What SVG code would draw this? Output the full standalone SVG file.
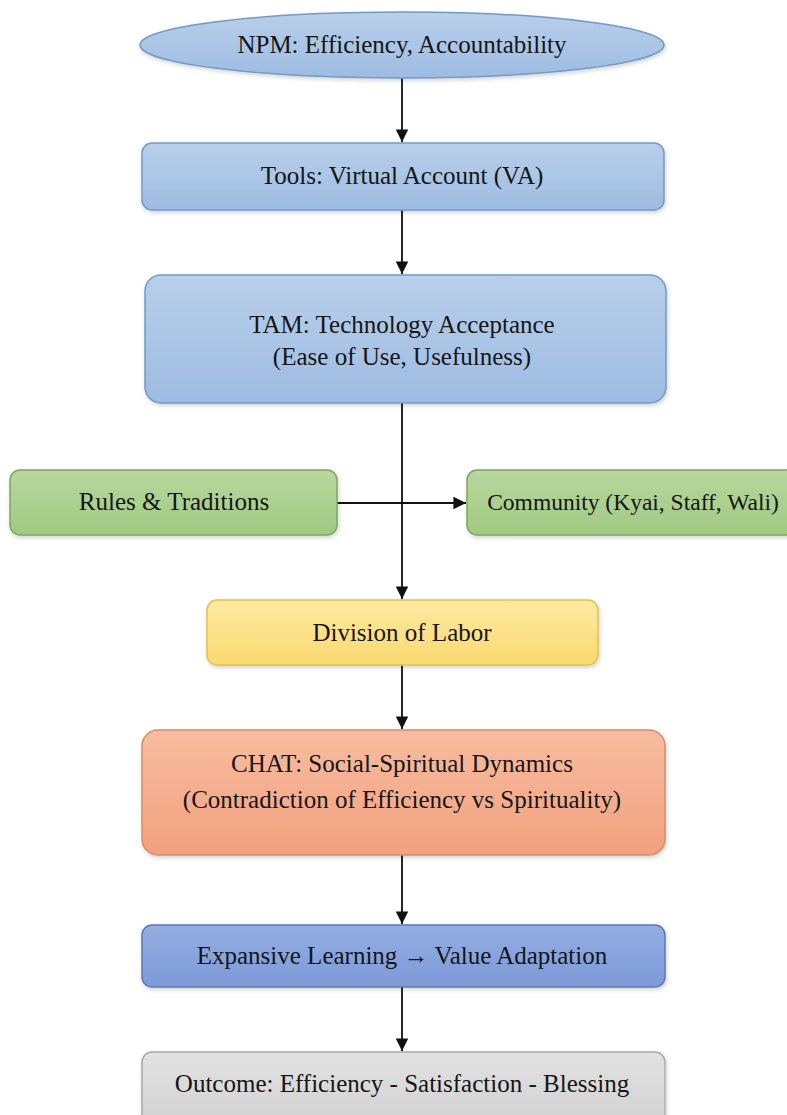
<svg xmlns="http://www.w3.org/2000/svg" width="787" height="1115" viewBox="0 0 787 1115">
<style>
text{font-family:"Liberation Serif","Times New Roman",serif;font-size:25px;fill:#151515;text-anchor:middle}
.c{stroke:#111;stroke-width:1.8;fill:none}
.blue{fill:url(#gBlue);stroke:#7399c6;stroke-width:1.5}
.green{fill:url(#gGreen);stroke:#7aa85c;stroke-width:1.5}
.yellow{fill:url(#gYellow);stroke:#e6c04c;stroke-width:1.5}
.orange{fill:url(#gOrange);stroke:#d98a6a;stroke-width:1.5}
.dblue{fill:url(#gDBlue);stroke:#5b78b8;stroke-width:1.5}
.gray{fill:url(#gGray);stroke:#aaaaaa;stroke-width:1.5}
.sh{filter:url(#shadow)}
</style>
<defs>
<linearGradient id="gBlue" x1="0" y1="0" x2="0" y2="1"><stop offset="0" stop-color="#b9cfea"/><stop offset="1" stop-color="#9dbce2"/></linearGradient>
<linearGradient id="gGreen" x1="0" y1="0" x2="0" y2="1"><stop offset="0" stop-color="#b8d89e"/><stop offset="1" stop-color="#a0c982"/></linearGradient>
<linearGradient id="gYellow" x1="0" y1="0" x2="0" y2="1"><stop offset="0" stop-color="#feeaa3"/><stop offset="1" stop-color="#fbd970"/></linearGradient>
<linearGradient id="gOrange" x1="0" y1="0" x2="0" y2="1"><stop offset="0" stop-color="#f8bca0"/><stop offset="1" stop-color="#f2a17e"/></linearGradient>
<linearGradient id="gDBlue" x1="0" y1="0" x2="0" y2="1"><stop offset="0" stop-color="#93aee2"/><stop offset="1" stop-color="#7d9ad8"/></linearGradient>
<linearGradient id="gGray" x1="0" y1="0" x2="0" y2="1"><stop offset="0" stop-color="#e2e2e2"/><stop offset="1" stop-color="#d0d0d0"/></linearGradient>
<filter id="shadow" x="-5%" y="-10%" width="110%" height="130%"><feDropShadow dx="1" dy="2" stdDeviation="2" flood-color="#000" flood-opacity="0.18"/></filter>
<marker id="arr" viewBox="0 0 10 10" refX="10" refY="5" markerWidth="7" markerHeight="7" markerUnits="strokeWidth" orient="auto"><path d="M0,0 L10,5 L0,10 z" fill="#111"/></marker>
</defs>
<rect width="787" height="1115" fill="#ffffff"/>
<g id="connectors">
<line class="c" x1="402" y1="78" x2="402" y2="142" marker-end="url(#arr)"/>
<line class="c" x1="402" y1="210" x2="402" y2="274" marker-end="url(#arr)"/>
<line class="c" x1="402" y1="403" x2="402" y2="599" marker-end="url(#arr)"/>
<line class="c" x1="337" y1="503" x2="466" y2="503" marker-end="url(#arr)"/>
<line class="c" x1="402" y1="665" x2="402" y2="729" marker-end="url(#arr)"/>
<line class="c" x1="402" y1="855" x2="402" y2="924" marker-end="url(#arr)"/>
<line class="c" x1="402" y1="987" x2="402" y2="1051" marker-end="url(#arr)"/>
</g>
<g id="npm"><ellipse class="blue sh" cx="402" cy="45" rx="262" ry="33"/><text x="402" y="53">NPM: Efficiency, Accountability</text></g>
<g id="tools"><rect class="blue sh" x="142" y="143" width="522" height="67" rx="10"/><text x="402" y="184">Tools: Virtual Account (VA)</text></g>
<g id="tam"><rect class="blue sh" x="145" y="275" width="521" height="128" rx="16"/><text x="402" y="333">TAM: Technology Acceptance</text><text x="402" y="365">(Ease of Use, Usefulness)</text></g>
<g id="rules"><rect class="green sh" x="10" y="470" width="327" height="65" rx="10"/><text x="174" y="510">Rules &amp; Traditions</text></g>
<g id="community"><rect class="green sh" x="467" y="470" width="340" height="65" rx="10"/><text x="633" y="510" style="font-size:23.5px">Community (Kyai, Staff, Wali)</text></g>
<g id="division"><rect class="yellow sh" x="207" y="600" width="391" height="65" rx="10"/><text x="402" y="641">Division of Labor</text></g>
<g id="chat"><rect class="orange sh" x="142" y="730" width="523" height="125" rx="16"/><text x="402" y="772">CHAT: Social-Spiritual Dynamics</text><text x="402" y="808">(Contradiction of Efficiency vs Spirituality)</text></g>
<g id="expansive"><rect class="dblue sh" x="142" y="925" width="523" height="62" rx="10"/><text x="402" y="964">Expansive Learning → Value Adaptation</text></g>
<g id="outcome"><rect class="gray sh" x="142" y="1052" width="523" height="80" rx="10"/><text x="402" y="1092">Outcome: Efficiency - Satisfaction - Blessing</text></g>
</svg>
